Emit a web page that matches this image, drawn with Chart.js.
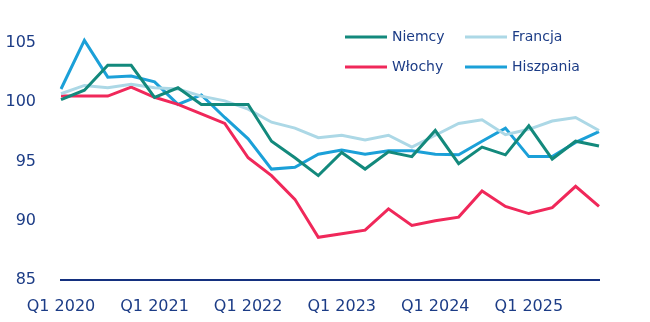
<!DOCTYPE html>
<html>
<head>
<meta charset="utf-8">
<script src="https://cdn.jsdelivr.net/npm/chart.js@4"></script>
<style>
  html, body { margin: 0; padding: 0; background: #fff; }
</style>
</head>
<body>
<canvas id="myChart" width="650" height="322"></canvas>
<script>
// quarterly index, Q1 2020 .. Q4 2025
const quarters = [];
for (let y = 2020; y <= 2025; y++) {
    for (let q = 1; q <= 4; q++) quarters.push(`Q${q} ${y}`);
}

const niemcy = [100.2, 101.0, 103.1, 103.1, 100.4, 101.2, 99.8, 99.8, 99.8, 96.7, 95.3, 93.8,
                95.75, 94.35, 95.8, 95.4, 97.6, 94.8, 96.2, 95.55, 98.0, 95.2, 96.7, 96.3];
const francja = [100.7, 101.4, 101.2, 101.5, 101.2, 101.1, 100.5, 100.1, 99.4, 98.3, 97.8, 97.0,
                 97.2, 96.8, 97.2, 96.2, 97.2, 98.2, 98.5, 97.25, 97.7, 98.4, 98.7, 97.6];
const wlochy = [100.5, 100.5, 100.5, 101.25, 100.4, 99.8, 99.0, 98.2, 95.3, 93.8, 91.8, 88.6,
                88.9, 89.2, 91.0, 89.6, 90.0, 90.3, 92.5, 91.2, 90.6, 91.1, 92.9, 91.2];
const hiszpania = [101.1, 105.2, 102.1, 102.2, 101.7, 99.8, 100.6, 98.7, 96.9, 94.35, 94.5, 95.6,
                   95.95, 95.6, 95.9, 95.9, 95.6, 95.55, 96.7, 97.8, 95.4, 95.4, 96.6, 97.5];

const navy = '#1c3c86';
const fontFamily = '"DejaVu Sans", sans-serif';

const series = [
    { label: 'Niemcy', data: niemcy, color: '#13897c' },
    { label: 'Francja', data: francja, color: '#acd8e6' },
    { label: 'Włochy', data: wlochy, color: '#f0285a' },
    { label: 'Hiszpania', data: hiszpania, color: '#1ba0d8' }
];

// two-column legend in the top right corner
const legendGrid = {
    id: 'legendGrid',
    afterDraw(chart) {
        const c = chart.ctx;
        const pos = [[345, 37], [465, 37], [345, 67], [465, 67]];
        c.save();
        c.font = `14px ${fontFamily}`;
        c.textBaseline = 'middle';
        c.fillStyle = navy;
        series.forEach((s, i) => {
            const [x, y] = pos[i];
            c.strokeStyle = s.color;
            c.lineWidth = 3;
            c.beginPath();
            c.moveTo(x, y);
            c.lineTo(x + 42, y);
            c.stroke();
            c.fillText(s.label, x + 47, y);
        });
        c.restore();
    }
};

const ctx = document.getElementById('myChart').getContext('2d');
new Chart(ctx, {
    type: 'line',
    data: {
        labels: quarters,
        datasets: series.map(s => ({
            label: s.label,
            data: s.data,
            borderColor: s.color,
            backgroundColor: s.color,
            borderWidth: 3,
            pointRadius: 0,
            tension: 0,
            fill: false
        }))
    },
    options: {
        responsive: false,
        animation: false,
        layout: { padding: { top: 19, right: 51, left: 0, bottom: 0 } },
        plugins: { legend: { display: false }, tooltip: { enabled: false } },
        scales: {
            x: {
                offset: false,
                grid: { display: false, drawTicks: false },
                border: { display: true, color: '#14307f', width: 2 },
                ticks: {
                    autoSkip: false,
                    maxRotation: 0,
                    padding: 17,
                    color: navy,
                    font: { family: fontFamily, size: 16 },
                    callback: function (val, idx) {
                        return idx % 4 === 0 ? this.getLabelForValue(val) : '';
                    }
                },
                afterFit: scale => {
                    scale.height = 42;
                    scale.paddingLeft = 0;
                    scale.paddingRight = 0;
                }
            },
            y: {
                min: 85,
                max: 107,
                grid: { display: false, drawTicks: false },
                border: { display: false },
                ticks: {
                    stepSize: 5,
                    padding: 25,
                    color: navy,
                    font: { family: fontFamily, size: 16 }
                },
                afterBuildTicks: scale => {
                    scale.ticks = scale.ticks.filter(t => t.value % 5 === 0);
                },
                afterFit: scale => {
                    scale.width = 61;
                    scale.paddingTop = 0;
                    scale.paddingBottom = 0;
                }
            }
        }
    },
    plugins: [legendGrid]
});
</script>
</body>
</html>
